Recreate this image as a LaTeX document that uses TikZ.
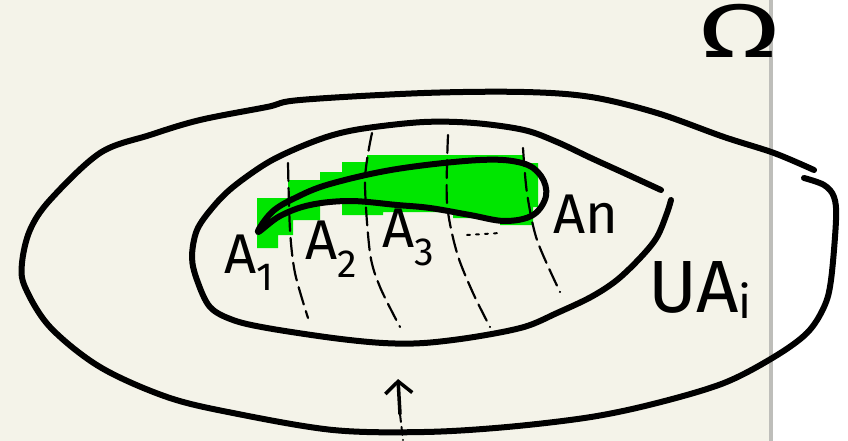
\documentclass[tikz,border=0pt]{standalone}
\usepackage{fontspec}
\setmainfont{Fira Sans}
\usetikzlibrary{arrows.meta}
\definecolor{cream}{RGB}{244,243,233}
\definecolor{hl}{RGB}{0,230,0}
\definecolor{edge}{RGB}{190,190,186}
\tikzset{
  ink/.style={line width=6pt, black},
  cut/.style={line width=2.2pt, black, dash pattern=on 18pt off 7pt},
  lbl/.style={inner sep=0pt, anchor=base west, font=\fontsize{56}{56}\selectfont},
  big/.style={inner sep=0pt, anchor=base west, font=\fontsize{74}{74}\selectfont},
}
\begin{document}
\begin{tikzpicture}[x=1pt, y=-1pt, line cap=round, line join=round]
\useasboundingbox (0,0) rectangle (848,441);
\fill[white] (0,0) rectangle (848,441);
\fill[cream] (0,0) rectangle (770,441);
\fill[edge] (769,0) rectangle (773,441);

% green highlight
\fill[hl] (257,198) -- (288,198) -- (288,180) -- (320,180) -- (320,172) -- (342,172)
  -- (342,162) -- (367,162) -- (367,155) -- (523,155) -- (523,163) -- (538,163)
  -- (538,207) -- (533,207) -- (533,225) -- (500,225) -- (500,218) -- (453,218)
  -- (453,212) -- (383,212) -- (383,215) -- (342,215) -- (342,202) -- (320,202)
  -- (320,220) -- (293,220) -- (293,235) -- (278,235) -- (278,248) -- (257,248) -- cycle;

% outer region
\draw[ink] plot[smooth, tension=0.55] coordinates {
  (804,178) (824,185) (834,197) (836,220) (831,280) (824,307) (807,333) (774,357)
  (724,383) (657,403) (591,417) (507,427) (424,432) (333,430) (233,413) (167,397)
  (100,367) (50,327) (25,287) (22,263) (30,230) (50,200) (100,153) (150,135)
  (200,120) (267,107) (300,100) (424,93) (524,92) (591,97) (657,113) (724,137)
  (774,153) (814,170)};

% inner region
\draw[ink] plot[smooth, tension=0.55] coordinates {
  (671,200) (667,213) (657,237) (641,257) (617,280) (591,297) (557,313) (524,327)
  (474,337) (424,343) (383,343) (333,338) (267,328) (233,320) (210,307) (197,280)
  (192,257) (197,230) (213,207) (233,187) (267,163) (300,147) (333,135) (367,128)
  (424,122) (474,123) (524,130) (557,142) (591,158) (624,173) (661,190)};

% cutting lines
\draw[cut] plot[smooth] coordinates {(288,163) (290,230) (295,273) (308,318)};
\draw[cut] plot[smooth] coordinates {(372,133) (365,180) (370,253) (380,287) (400,327)};
\draw[cut] plot[smooth] coordinates {(448,135) (447,203) (457,253) (473,293) (490,327)};
\draw[cut] plot[smooth] coordinates {(523,148) (527,193) (537,240) (560,292)};
\draw[line width=2pt, dash pattern=on 3pt off 6pt] (467,235) -- (500,233);

% banana set
\draw[ink] plot[smooth cycle, tension=0.6] coordinates {
  (258,232) (272,212) (295,198) (330,184) (397,169) (480,160) (522,163) (541,176)
  (546,196) (533,215) (505,221) (470,215) (430,208) (397,205) (350,201) (310,205)
  (280,216)};

% labels
\node[lbl] (a1) at (224,273) {A\textsubscript{1}};
\node[lbl] (a2) at (305,259) {A\textsubscript{2}};
\node[lbl] (a3) at (382,247) {A\textsubscript{3}};
\node[lbl] (an) at (553,233) {An};
\node[big] (un) at (648,312) {UA\raisebox{-6pt}{\fontsize{46}{46}\selectfont i}};
\node[inner sep=0pt, xscale=1.6, font=\fontsize{76}{76}\selectfont] (om) at (740,31) {Ω};

% arrow
\coordinate (ab) at (400,414);
\coordinate (at) at (398,379);
\coordinate (ae) at (403,440);
\draw[line width=3.5pt, -{Straight Barb[length=12pt, width=27pt]}] (ab) -- (at);
\draw[line width=2pt, dash pattern=on 8pt off 5pt] (ab) -- (ae);
\end{tikzpicture}
\end{document}
